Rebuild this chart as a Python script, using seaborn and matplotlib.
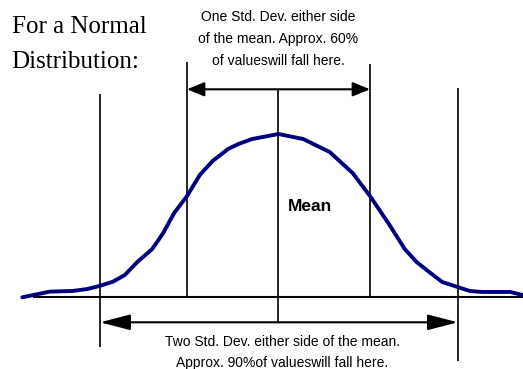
import matplotlib
matplotlib.use("Agg")
import matplotlib.pyplot as plt
import seaborn as sns
import pandas as pd

# ---------------- data (x in std. dev. units, y relative to peak) ----------------
curve_x = [-2.80, -2.50, -2.25, -2.09, -1.95, -1.81, -1.68, -1.54, -1.38, -1.26,
           -1.14, -1.00, -0.86, -0.72, -0.55, -0.44, -0.29, 0.00, 0.27, 0.56,
           0.81, 1.00, 1.20, 1.38, 1.51, 1.66, 1.79, 1.96, 2.09, 2.22, 2.53, 2.67]
curve_y = [-0.005, 0.030, 0.034, 0.046, 0.066, 0.091, 0.132, 0.214, 0.292, 0.391,
           0.514, 0.618, 0.748, 0.834, 0.908, 0.938, 0.969, 1.000, 0.969, 0.889,
           0.760, 0.618, 0.452, 0.292, 0.212, 0.145, 0.089, 0.058, 0.034, 0.028,
           0.028, 0.009]
one_sd = [-1.00, 1.00]
two_sd = [-1.95, 1.96]
mean_x = [0.0]

title_lines = ["For a Normal", "Distribution:"]
one_sd_text = ["One Std. Dev. either side", "of the mean. Approx. 60%",
               "of valueswill fall here."]
two_sd_text = ["Two Std. Dev. either side of the mean.",
               "Approx. 90%of valueswill fall here."]
mean_label = "Mean"

# ---------------- layout ----------------
W, H = 523, 369
SIG_PX, MEAN_PX, BASE_PX, PEAK_PX = 91.5, 278.5, 296.5, 162.5


def dy(px):  # figure pixel row -> data y
    return (BASE_PX - px) / PEAK_PX


sns.set_theme(style="white")
plt.rcParams["font.family"] = ["Liberation Sans", "DejaVu Sans"]

fig = plt.figure(figsize=(W / 100, H / 100), dpi=100)
ax = fig.add_axes([0, 0, 1, 1])
ax.set_xlim(-MEAN_PX / SIG_PX, (W - MEAN_PX) / SIG_PX)
ax.set_ylim(dy(H), dy(0))
ax.set_axis_off()

lw_black = 1.2
# baseline
ax.plot([curve_x[0] + 0.12, ax.get_xlim()[1]], [0, 0], color="black", lw=1.5,
        solid_capstyle="butt", zorder=2)
# vertical lines
ax.vlines(one_sd, [0, 0], [dy(62.3), dy(64.3)], color="black", lw=lw_black, zorder=2)
ax.vlines(mean_x, [dy(322.3)], [dy(90)], color="black", lw=lw_black, zorder=2)
ax.vlines(two_sd, [dy(347), dy(361)], [dy(94.3), dy(88.3)], color="black",
          lw=lw_black, zorder=2)

# curve
df = pd.DataFrame({"x": curve_x, "y": curve_y})
sns.lineplot(data=df, x="x", y="y", sort=False, color="#00007f", lw=2.8, ax=ax,
             zorder=3)
ax.lines[-1].set_solid_joinstyle("round")
ax.lines[-1].set_solid_capstyle("round")
ax.set_xlabel("")
ax.set_ylabel("")

# arrows
ax.annotate("", xy=(one_sd[1], dy(89.3)), xytext=(one_sd[0], dy(89.3)),
            arrowprops=dict(arrowstyle="<|-|>,head_length=10.5,head_width=4.3",
                            mutation_scale=1, color="black", lw=1.5,
                            shrinkA=0, shrinkB=0))
ax.annotate("", xy=(two_sd[1], dy(322.3)), xytext=(two_sd[0], dy(322.3)),
            arrowprops=dict(arrowstyle="<|-|>,head_length=18.5,head_width=4.8",
                            mutation_scale=1, color="black", lw=1.5,
                            shrinkA=0, shrinkB=0))


def fx(px):
    return px / W


def fy(py):
    return 1 - py / H


# title
for line, base in zip(title_lines, [33.3, 68.3]):
    fig.text(fx(11.5), fy(base), line, family=["Liberation Serif", "DejaVu Serif"],
             fontsize=18, va="baseline", ha="left", color="black")

# top annotation
for line, base in zip(one_sd_text, [21, 43, 65]):
    fig.text(fx(278.5), fy(base), line, fontsize=10, va="baseline", ha="center",
             color="black")

# bottom annotation
for line, base in zip(two_sd_text, [345.7, 366.7]):
    fig.text(fx(282.5), fy(base), line, fontsize=10, va="baseline", ha="center",
             color="black")

# mean label
fig.text(fx(287.5), fy(210.7), mean_label, fontsize=12.5, fontweight="bold",
         va="baseline", ha="left", color="black")

fig.savefig("out.png", dpi=100, facecolor="white")
